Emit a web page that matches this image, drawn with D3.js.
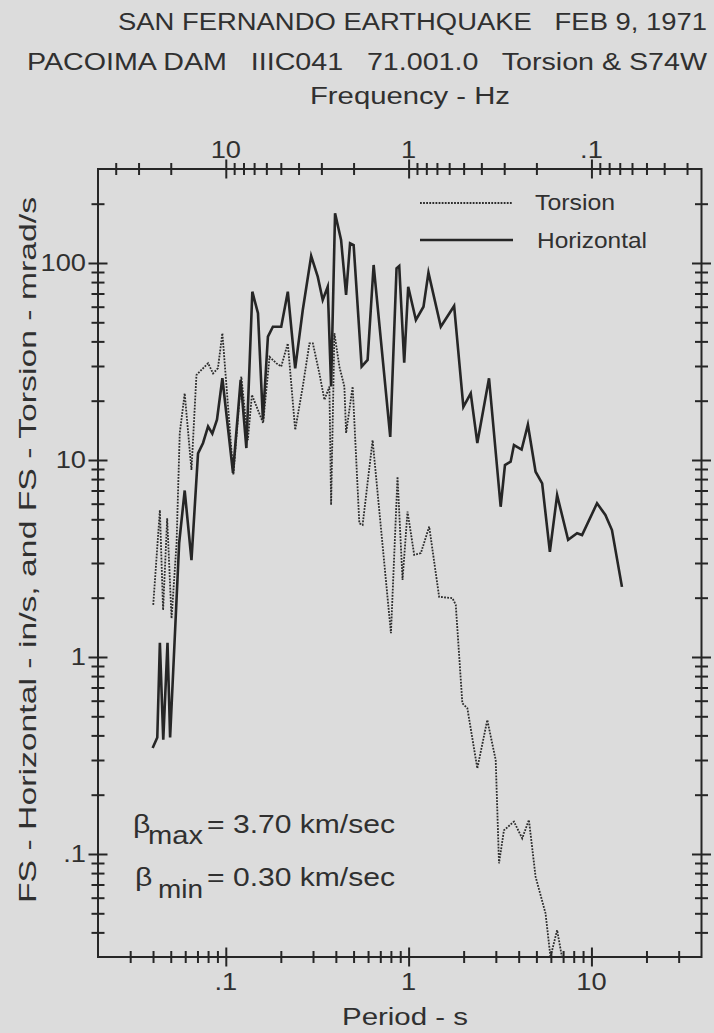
<!DOCTYPE html>
<html>
<head>
<meta charset="utf-8">
<script src="https://cdn.jsdelivr.net/npm/d3@7/dist/d3.min.js"></script>
<style>
  html, body { margin: 0; padding: 0; background: #dcdcdc; }
  svg { display: block; }
  text { font-family: "Liberation Sans", Arial, Helvetica, sans-serif; fill: #303030; white-space: pre; }
</style>
</head>
<body>
<svg id="chart" width="714" height="1033"></svg>
<script>
// Fourier spectra, Pacoima Dam record of the 1971 San Fernando earthquake
const titleLine1 = "SAN FERNANDO EARTHQUAKE   FEB 9, 1971";
const titleLine2 = "PACOIMA DAM   IIIC041   71.001.0   Torsion & S74W";
const xTitle = "Period - s";
const topTitle = "Frequency - Hz";
const yTitle = "FS - Horizontal - in/s, and FS - Torsion - mrad/s";

// Horizontal (S74W) Fourier amplitude, in/s
const horizontalPeriod = [
  0.0398, 0.0422, 0.0436, 0.0455, 0.048, 0.0496, 0.0556, 0.0596, 0.0649, 0.0705,
  0.0751, 0.080, 0.0844, 0.0895, 0.0958, 0.1095, 0.1206, 0.1296, 0.1397, 0.150,
  0.1596, 0.170, 0.181, 0.201, 0.2184, 0.2397, 0.2637, 0.2931, 0.3184, 0.339,
  0.361, 0.3768, 0.396, 0.4272, 0.455, 0.4784, 0.5004, 0.5534, 0.5967, 0.6436,
  0.7934, 0.859, 0.8885, 0.9462, 0.995, 1.096, 1.206, 1.284, 1.5, 1.774,
  1.993, 2.187, 2.376, 2.753, 3.188, 3.365, 3.615, 3.769, 4.151, 4.492,
  4.949, 5.377, 5.924, 6.492, 7.455, 8.347, 8.887, 10.73, 11.92, 12.95, 14.69
];
const horizontalValue = [
  0.345, 0.39, 1.18, 0.38, 1.18, 0.39, 3.8, 7.0, 3.1, 10.8,
  12.2, 14.8, 13.6, 16.0, 26.0, 8.6, 25.5, 11.5, 71.5, 55.6,
  16.0, 42.3, 47.5, 47.5, 71.5, 29.2, 57.7, 108.5, 85.2, 64.9,
  75.8, 23.6, 178.7, 130.9, 68.8, 126, 123.4, 29.8, 32.2, 97.7,
  13.1, 94.0, 96.6, 31.2, 75.8, 51.4, 60.0, 89.3, 47.5, 60.5,
  18.6, 21.8, 12.2, 26.0, 5.79, 9.43, 9.8, 11.9, 11.3, 15.1,
  8.72, 7.61, 3.42, 6.64, 3.93, 4.25, 4.16, 6.03, 5.26, 4.41, 2.27
];

// Torsional Fourier amplitude, mrad/s
const torsionPeriod = [
  0.0401, 0.0436, 0.0454, 0.0478, 0.0505, 0.0538, 0.056, 0.0596, 0.0649, 0.0691,
  0.080, 0.0852, 0.0906, 0.0958, 0.110, 0.1216, 0.132, 0.139, 0.160, 0.1736,
  0.1889, 0.201, 0.2184, 0.2397, 0.2637, 0.2869, 0.2994, 0.3251, 0.3464, 0.3688,
  0.3768, 0.3927, 0.4181, 0.4453, 0.455, 0.4943, 0.5376, 0.5603, 0.6355, 0.8005,
  0.8697, 0.9263, 0.9863, 1.029, 1.073, 1.167, 1.296, 1.469, 1.736, 1.811,
  1.968, 2.096, 2.376, 2.694, 2.995, 3.122, 3.323, 3.769, 4.182, 4.55,
  4.949, 5.61, 5.97, 6.49, 6.9
];
const torsionValue = [
  1.84, 5.57, 1.73, 5.06, 1.57, 3.78, 13.7, 21.8, 8.9, 27.0,
  31.0, 27.5, 29.3, 44.0, 8.4, 26.5, 12.6, 21.4, 15.4, 33.4,
  31.0, 29.8, 39.1, 14.2, 23.6, 39.1, 39.1, 27.5, 20.2, 23.6,
  5.91, 44.0, 29.8, 23.6, 13.7, 23.6, 4.77, 4.68, 12.6, 1.32,
  8.23, 2.46, 5.47, 4.25, 3.30, 3.37, 4.59, 2.02, 1.99, 1.84,
  0.582, 0.549, 0.272, 0.479, 0.300, 0.0897, 0.132, 0.146, 0.120, 0.149,
  0.0767, 0.050, 0.030, 0.0411, 0.030
];

// Labelled decade ticks
const periodLabelValues = [0.1, 1, 10];
const periodLabels = [".1", "1", "10"];
const freqLabelValues = [10, 1, 0.1];
const freqLabels = ["10", "1", ".1"];
const ampLabelValues = [100, 10, 1, 0.1];
const ampLabels = ["100", "10", "1", ".1"];

const seriesNames = ["Torsion", "Horizontal"];

const svg = d3.select("#chart");
const ink = "#262626";
const dotted = { color: "#2c2c2c", width: 1.8, dash: "1.8 1.3" };

const x = d3.scaleLog().domain([0.02, 40]).range([98, 701.5]);
const xf = d3.scaleLog().domain([50, 0.025]).range([98, 701.5]);
const y = d3.scaleLog().domain([0.03, 300]).range([957, 169]);

const [plotLeft, plotRight] = x.range();
const [plotBottom, plotTop] = y.range();

// minor tick values k*10^e strictly inside a log domain, skipping powers of ten
function minorTicks(lo, hi) {
  const out = [];
  for (let e = Math.floor(Math.log10(lo)); e <= Math.ceil(Math.log10(hi)); e++) {
    for (let k = 2; k <= 9; k++) {
      const v = +(k * Math.pow(10, e)).toPrecision(6);
      if (v > lo * 1.0001 && v < hi * 0.9999) out.push(v);
    }
  }
  return out;
}

// frame
svg.append("rect")
  .attr("x", plotLeft).attr("y", plotTop)
  .attr("width", plotRight - plotLeft).attr("height", plotBottom - plotTop)
  .attr("fill", "none").attr("stroke", ink).attr("stroke-width", 2);

// ticks crossing the frame lines
function crossAxis(axis, transform, values, half, vertical) {
  const g = svg.append("g").attr("transform", transform)
    .call(axis.tickValues(values).tickSize(0).tickFormat(() => ""));
  g.select(".domain").remove();
  g.selectAll(".tick text").remove();
  g.selectAll(".tick line")
    .attr(vertical ? "x1" : "y1", -half)
    .attr(vertical ? "x2" : "y2", half)
    .attr("stroke", ink).attr("stroke-width", 2);
}

const pMinor = minorTicks(0.02, 40);
const fMinor = minorTicks(0.025, 50);
const aMinor = minorTicks(0.03, 300);

crossAxis(d3.axisBottom(x), `translate(0,${plotBottom})`, pMinor, 6, false);
crossAxis(d3.axisBottom(x), `translate(0,${plotBottom})`, periodLabelValues, 9.5, false);
crossAxis(d3.axisTop(xf), `translate(0,${plotTop})`, fMinor, 6, false);
crossAxis(d3.axisTop(xf), `translate(0,${plotTop})`, freqLabelValues, 9.5, false);
crossAxis(d3.axisLeft(y), `translate(${plotLeft},0)`, aMinor, 6.5, true);
crossAxis(d3.axisLeft(y), `translate(${plotLeft},0)`, ampLabelValues, 9.5, true);
crossAxis(d3.axisRight(y), `translate(${plotRight},0)`, aMinor, 6.5, true);
crossAxis(d3.axisRight(y), `translate(${plotRight},0)`, ampLabelValues, 9.5, true);

// text helper: horizontally widened glyphs like the plotter lettering
function label(px, py, str, size, len, anchor) {
  const t = svg.append("text")
    .attr("x", px).attr("y", py)
    .attr("font-size", size)
    .attr("text-anchor", anchor || "start")
    .text(str);
  if (len) t.attr("textLength", len).attr("lengthAdjust", "spacingAndGlyphs");
  return t;
}
const stretch = 1.16;
function tickText(px, py, str, size, anchor) {
  svg.append("text")
    .attr("transform", `translate(${px},${py}) scale(${stretch},1)`)
    .attr("font-size", size)
    .attr("text-anchor", anchor)
    .text(str);
}

periodLabelValues.forEach((v, i) => tickText(x(v), 990, periodLabels[i], 23.5, "middle"));
freqLabelValues.forEach((v, i) => tickText(xf(v), 158, freqLabels[i], 23.5, "middle"));
ampLabelValues.forEach((v, i) => tickText(86, y(v) + 8.5, ampLabels[i], 23.5, "end"));

label(118, 30, titleLine1, 23.5, 589);
label(27, 70, titleLine2, 23.5, 680);
label(310, 104, topTitle, 23.5, 200);
label(342, 1025, xTitle, 23.5, 126);

svg.append("text")
  .attr("transform", "translate(36,550) rotate(-90)")
  .attr("font-size", 24)
  .attr("text-anchor", "middle")
  .attr("textLength", 706).attr("lengthAdjust", "spacingAndGlyphs")
  .text(yTitle);

// shear-wave velocity notes
tickText(133, 833, "\u03b2", 26, "start");
label(148, 844, "max", 26, 55);
label(207, 833, "= 3.70 km/sec", 26, 188);
tickText(135, 886, "\u03b2", 26, "start");
label(158, 898, "min", 26, 45);
label(207, 886, "= 0.30 km/sec", 26, 188);

// curves
svg.append("clipPath").attr("id", "plot-clip")
  .append("rect").attr("x", plotLeft).attr("y", plotTop)
  .attr("width", plotRight - plotLeft).attr("height", plotBottom - plotTop);

const line = d3.line().x(d => x(d[0])).y(d => y(d[1]));
const torsion = d3.zip(torsionPeriod, torsionValue);
const horizontal = d3.zip(horizontalPeriod, horizontalValue);

const plot = svg.append("g").attr("clip-path", "url(#plot-clip)");
plot.append("path").datum(torsion)
  .attr("d", line)
  .attr("fill", "none").attr("stroke", dotted.color)
  .attr("stroke-width", dotted.width).attr("stroke-dasharray", dotted.dash);
plot.append("path").datum(horizontal)
  .attr("d", line)
  .attr("fill", "none").attr("stroke", ink)
  .attr("stroke-width", 2.6).attr("stroke-linejoin", "miter").attr("stroke-miterlimit", 6);

// legend
const legend = svg.append("g");
legend.append("line").attr("x1", 420).attr("x2", 513).attr("y1", 203).attr("y2", 203)
  .attr("stroke", dotted.color).attr("stroke-width", dotted.width).attr("stroke-dasharray", dotted.dash);
legend.append("line").attr("x1", 420).attr("x2", 513).attr("y1", 240).attr("y2", 240)
  .attr("stroke", ink).attr("stroke-width", 2.6);
label(535, 210, seriesNames[0], 22, 80);
label(537, 248, seriesNames[1], 22, 110);
</script>
</body>
</html>
